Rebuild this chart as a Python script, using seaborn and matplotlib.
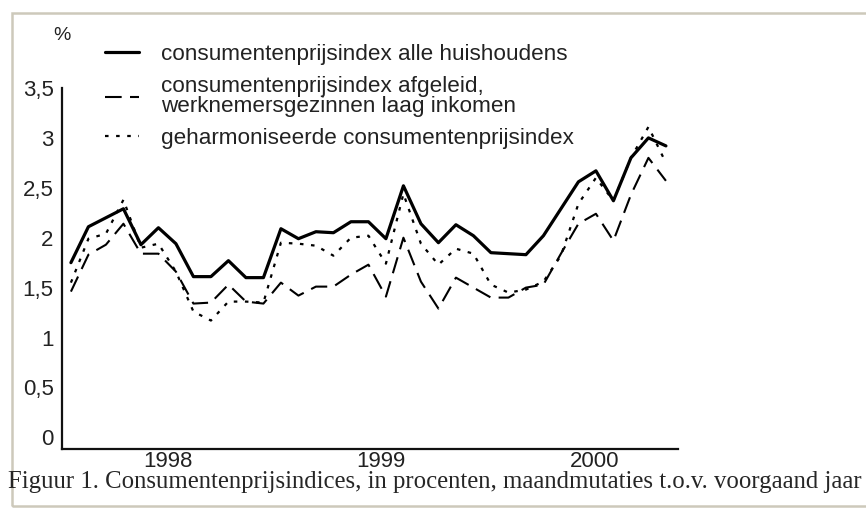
import numpy as np
import pandas as pd
import matplotlib
matplotlib.use("Agg")
import matplotlib.pyplot as plt
from matplotlib.patches import Rectangle
import seaborn as sns

# maandmutaties t.o.v. voorgaand jaar, jan 1998 - nov 2000
maanden = pd.period_range("1998-01", "2000-11", freq="M").astype(str).tolist()

cpi_alle = [1.75, 2.11, 2.20, 2.29, 1.93, 2.10, 1.94, 1.61, 1.61, 1.77, 1.60, 1.60,
            2.09, 1.99, 2.06, 2.05, 2.16, 2.16, 1.99, 2.52, 2.14, 1.95, 2.13, 2.02,
            1.85, 1.84, 1.83, 2.02, 2.29, 2.56, 2.67, 2.37, 2.80, 3.00, 2.92]
cpi_laag = [1.46, 1.83, 1.93, 2.14, 1.84, 1.84, 1.66, 1.34, 1.35, 1.53, 1.36, 1.34,
            1.55, 1.42, 1.51, 1.51, 1.63, 1.73, 1.41, 2.00, 1.56, 1.29, 1.60, 1.50,
            1.40, 1.40, 1.50, 1.53, 1.84, 2.14, 2.24, 1.97, 2.43, 2.80, 2.57]
hicp = [1.55, 1.99, 2.04, 2.38, 1.90, 1.94, 1.66, 1.26, 1.17, 1.36, 1.36, 1.35,
        1.95, 1.94, 1.92, 1.82, 2.00, 2.02, 1.74, 2.44, 1.94, 1.73, 1.89, 1.84,
        1.53, 1.45, 1.48, 1.56, 1.82, 2.34, 2.60, 2.37, 2.80, 3.11, 2.75]

labels = ["consumentenprijsindex alle huishoudens",
          "consumentenprijsindex afgeleid,\nwerknemersgezinnen laag inkomen",
          "geharmoniseerde consumentenprijsindex"]
jaar_labels = ["1998", "1999", "2000"]
y_ticks = [0, 0.5, 1, 1.5, 2, 2.5, 3, 3.5]
y_labels = ["0", "0,5", "1", "1,5", "2", "2,5", "3", "3,5"]

df = pd.DataFrame({"maand": maanden, "alle": cpi_alle, "laag": cpi_laag, "hicp": hicp})
df["pos"] = range(len(df))

sns.set_style("white")
plt.rcParams["font.family"] = ["Liberation Sans", "DejaVu Sans"]

fig = plt.figure(figsize=(8.66, 5.11), dpi=100)
ax = fig.add_axes([62 / 866, 1 - 449 / 511, 616 / 866, 361 / 511])

sns.lineplot(data=df, x="pos", y="alle", ax=ax, color="black", lw=2.3, label=labels[0])
sns.lineplot(data=df, x="pos", y="laag", ax=ax, color="black", lw=1.5,
             dashes=False, label=labels[1])
sns.lineplot(data=df, x="pos", y="hicp", ax=ax, color="black", lw=1.6,
             dashes=False, label=labels[2])
ax.lines[1].set_dashes([8, 4])
ax.lines[2].set_dashes([1.6, 3.4])

ax.set_xlim(-0.51, 34.69)
ax.set_ylim(-0.117, 3.40)
ax.set_xticks([5.55, 17.7, 29.9])
ax.set_xticklabels(jaar_labels)
ax.set_yticks(y_ticks)
ax.set_yticklabels(y_labels)
ax.tick_params(axis="both", length=0, labelsize=16, colors="#222222")
ax.tick_params(axis="y", pad=6)
ax.tick_params(axis="x", pad=1.5)
ax.set_xlabel("")
ax.set_ylabel("")
for s in ["top", "right"]:
    ax.spines[s].set_visible(False)
for s in ["left", "bottom"]:
    ax.spines[s].set_color("#111111")
    ax.spines[s].set_linewidth(1.6)

leg = ax.legend(loc="upper left", bbox_to_anchor=(105 / 866, 1 - 44 / 511),
                bbox_transform=fig.transFigure, frameon=False, fontsize=16.2,
                handlelength=1.5, handletextpad=1.0, labelspacing=0.5,
                borderpad=0, borderaxespad=0)
for t in leg.get_texts():
    t.set_linespacing(0.9)
    t.set_color("#222222")

fig.text(62 / 866, 1 - 36 / 511, "%", ha="center", va="center", fontsize=14, color="#222222")

fig.text(8 / 866, 1 - 482 / 511,
         "Figuur 1. Consumentenprijsindices, in procenten, maandmutaties t.o.v. voorgaand jaar",
         ha="left", va="center", fontsize=17.8, family=["Liberation Serif", "DejaVu Serif"])

fig.add_artist(Rectangle((12 / 866, 1 - 506 / 511), 2.0, 493 / 511,
                         transform=fig.transFigure, fill=False,
                         edgecolor="#cdc9bb", lw=1.8))

fig.savefig("out.png", dpi=100)
